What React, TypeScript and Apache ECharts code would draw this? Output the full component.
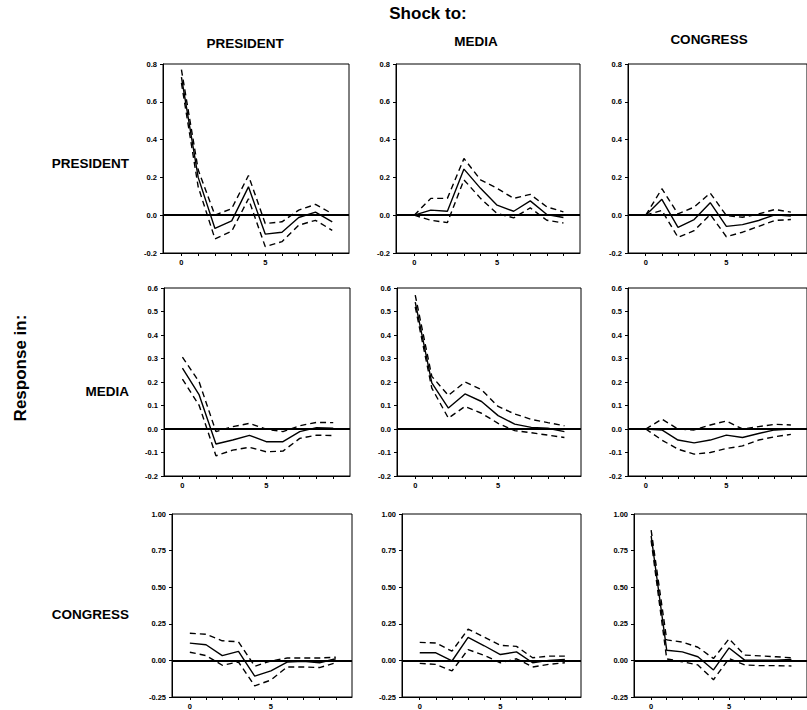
import React, { useEffect, useRef } from "react";
import * as echarts from "echarts";

// horizon steps
const steps = [0, 1, 2, 3, 4, 5, 6, 7, 8, 9];
const xLabelTicks = [0, 5];

// Shock / response names
const shockNames = ["PRESIDENT", "MEDIA", "CONGRESS"];
const responseNames = ["PRESIDENT", "MEDIA", "CONGRESS"];

// Response of PRESIDENT
const presToPresMid = [0.73, 0.2, -0.07, -0.03, 0.15, -0.1, -0.09, -0.012, 0.016, -0.035];
const presToPresUp = [0.77, 0.24, 0.0, 0.035, 0.21, -0.044, -0.035, 0.027, 0.057, 0.008];
const presToPresLo = [0.7, 0.15, -0.125, -0.085, 0.087, -0.166, -0.14, -0.053, -0.027, -0.08];

const mediaToPresMid = [0.0, 0.027, 0.021, 0.244, 0.142, 0.053, 0.021, 0.076, 0.004, -0.012];
const mediaToPresUp = [0.0, 0.089, 0.089, 0.3, 0.187, 0.142, 0.089, 0.11, 0.044, 0.018];
const mediaToPresLo = [0.0, -0.027, -0.039, 0.187, 0.089, 0.009, -0.014, 0.039, -0.027, -0.041];

const congToPresMid = [0.0, 0.084, -0.064, -0.023, 0.066, -0.059, -0.05, -0.028, 0.002, -0.005];
const congToPresUp = [0.0, 0.14, 0.007, 0.043, 0.117, -0.002, -0.011, 0.007, 0.03, 0.016];
const congToPresLo = [0.0, 0.025, -0.117, -0.082, 0.004, -0.114, -0.09, -0.059, -0.028, -0.023];

// Response of MEDIA
const presToMediaMid = [0.259, 0.145, -0.064, -0.047, -0.027, -0.054, -0.054, -0.011, 0.006, 0.003];
const presToMediaUp = [0.306, 0.2, -0.011, 0.01, 0.024, -0.001, -0.011, 0.014, 0.028, 0.027];
const presToMediaLo = [0.212, 0.1, -0.114, -0.09, -0.078, -0.097, -0.094, -0.04, -0.026, -0.028];

const mediaToMediaMid = [0.54, 0.196, 0.089, 0.149, 0.117, 0.057, 0.021, 0.007, 0.003, -0.011];
const mediaToMediaUp = [0.57, 0.224, 0.143, 0.2, 0.167, 0.096, 0.064, 0.041, 0.027, 0.014];
const mediaToMediaLo = [0.52, 0.174, 0.046, 0.096, 0.067, 0.024, -0.007, -0.016, -0.026, -0.036];

const congToMediaMid = [0.0, -0.004, -0.047, -0.059, -0.047, -0.026, -0.036, -0.019, -0.004, 0.0];
const congToMediaUp = [0.0, 0.042, 0.0, -0.004, 0.017, 0.034, 0.0, 0.01, 0.02, 0.017];
const congToMediaLo = [0.0, -0.047, -0.086, -0.107, -0.1, -0.083, -0.072, -0.047, -0.033, -0.023];

// Response of CONGRESS
const presToCongMid = [0.118, 0.107, 0.033, 0.062, -0.107, -0.071, -0.011, -0.007, -0.016, 0.011];
const presToCongUp = [0.185, 0.179, 0.134, 0.127, -0.04, -0.004, 0.016, 0.016, 0.016, 0.022];
const presToCongLo = [0.056, 0.033, -0.033, -0.011, -0.174, -0.134, -0.045, -0.045, -0.049, -0.016];

const mediaToCongMid = [0.052, 0.052, -0.004, 0.157, 0.1, 0.04, 0.058, -0.016, 0.0, 0.007];
const mediaToCongUp = [0.123, 0.119, 0.063, 0.213, 0.159, 0.103, 0.096, 0.018, 0.029, 0.029];
const mediaToCongLo = [-0.02, -0.027, -0.072, 0.074, 0.034, -0.016, 0.011, -0.045, -0.027, -0.016];

const congToCongMid = [0.85, 0.069, 0.058, 0.025, -0.065, 0.085, 0.002, 0.002, 0.002, 0.007];
const congToCongUp = [0.89, 0.14, 0.125, 0.09, 0.013, 0.147, 0.036, 0.031, 0.025, 0.018];
const congToCongLo = [0.82, 0.01, -0.009, -0.031, -0.132, 0.013, -0.031, -0.036, -0.036, -0.038];

// panels [row][col]: row = response, col = shock
const panels = [
  [
    [presToPresMid, presToPresUp, presToPresLo],
    [mediaToPresMid, mediaToPresUp, mediaToPresLo],
    [congToPresMid, congToPresUp, congToPresLo],
  ],
  [
    [presToMediaMid, presToMediaUp, presToMediaLo],
    [mediaToMediaMid, mediaToMediaUp, mediaToMediaLo],
    [congToMediaMid, congToMediaUp, congToMediaLo],
  ],
  [
    [presToCongMid, presToCongUp, presToCongLo],
    [mediaToCongMid, mediaToCongUp, mediaToCongLo],
    [congToCongMid, congToCongUp, congToCongLo],
  ],
];

// y-axis scales per row
const yMins = [-0.2, -0.2, -0.25];
const yMaxs = [0.8, 0.6, 1.0];
const yIntervals = [0.2, 0.1, 0.25];
const yDecimals = [1, 1, 2];

// layout
const gridLefts = [
  [163, 396, 628],
  [164, 397, 628],
  [172, 402, 634],
];
const gridWidths = [
  [186, 184, 186],
  [186, 184, 186],
  [180, 179, 180],
];
const gridTops = [64, 288, 514];
const gridHeights = [189, 188, 187];

const FONT = '"Liberation Sans", Arial, Helvetica, sans-serif';

export default function App() {
  const ref = useRef<HTMLDivElement>(null);

  useEffect(() => {
    if (!ref.current) return;
    const chart = echarts.init(ref.current, undefined, { renderer: "svg" });

    const grid: any[] = [];
    const xAxis: any[] = [];
    const yAxis: any[] = [];
    const series: any[] = [];

    for (let r = 0; r < 3; r++) {
      for (let c = 0; c < 3; c++) {
        const idx = r * 3 + c;
        grid.push({
          left: gridLefts[r][c],
          top: gridTops[r],
          width: gridWidths[r][c],
          height: gridHeights[r],
          show: true,
          borderColor: "#000",
          borderWidth: 1,
          backgroundColor: "transparent",
        });
        xAxis.push({
          type: "value",
          gridIndex: idx,
          min: -1.1,
          max: 10,
          splitLine: { show: false },
          axisLine: { show: true, onZero: false, lineStyle: { color: "#000", width: 1 } },
          axisTick: {
            show: true,
            length: 3,
            customValues: steps,
            lineStyle: { color: "#000" },
          },
          axisLabel: {
            show: true,
            customValues: xLabelTicks,
            margin: 5,
            color: "#000",
            fontFamily: FONT,
            fontWeight: "bold",
            fontSize: 7.5,
            formatter: (v: number) => String(Math.round(v)),
          },
        });
        const dec = yDecimals[r];
        yAxis.push({
          type: "value",
          gridIndex: idx,
          min: yMins[r],
          max: yMaxs[r],
          interval: yIntervals[r],
          splitLine: { show: false },
          axisLine: { show: true, onZero: false, lineStyle: { color: "#000", width: 1 } },
          axisTick: { show: true, length: 3, lineStyle: { color: "#000" } },
          axisLabel: {
            margin: 6,
            color: "#000",
            fontFamily: FONT,
            fontWeight: "bold",
            fontSize: 7.5,
            formatter: (v: number) => (Math.abs(v) < 1e-9 ? 0 : v).toFixed(dec),
          },
        });
        const [mid, up, lo] = panels[r][c];
        series.push({
          type: "line",
          xAxisIndex: idx,
          yAxisIndex: idx,
          data: steps.map((s, i) => [s, mid[i]]),
          showSymbol: false,
          symbol: "none",
          lineStyle: { color: "#000", width: 1.4, type: "solid" },
          silent: true,
          markLine: {
            silent: true,
            symbol: ["none", "none"],
            label: { show: false },
            lineStyle: { color: "#000", width: 2, type: "solid" },
            data: [{ yAxis: 0 }],
          },
        });
        [up, lo].forEach((band) => {
          series.push({
            type: "line",
            xAxisIndex: idx,
            yAxisIndex: idx,
            data: steps.map((s, i) => [s, band[i]]),
            showSymbol: false,
            symbol: "none",
            lineStyle: { color: "#000", width: 1.4, type: [6, 4] },
            silent: true,
          });
        });
      }
    }

    const colCenters = [245, 476, 709];
    const colYs = [43, 41, 39];
    const rowYs = [163, 391, 614];

    const graphic: any[] = [
      {
        type: "text",
        x: 428,
        y: 13,
        style: {
          text: "Shock to:",
          font: `bold 17px ${FONT}`,
          fill: "#000",
          textAlign: "center",
          textVerticalAlign: "middle",
        },
      },
      {
        type: "text",
        x: 20,
        y: 368,
        rotation: Math.PI / 2,
        style: {
          text: "Response in:",
          font: `bold 17px ${FONT}`,
          fill: "#000",
          textAlign: "center",
          textVerticalAlign: "middle",
        },
      },
    ];
    shockNames.forEach((n, i) => {
      graphic.push({
        type: "text",
        x: colCenters[i],
        y: colYs[i],
        style: {
          text: n,
          font: `bold 13.5px ${FONT}`,
          fill: "#000",
          textAlign: "center",
          textVerticalAlign: "middle",
        },
      });
    });
    responseNames.forEach((n, i) => {
      graphic.push({
        type: "text",
        x: 129,
        y: rowYs[i],
        style: {
          text: n,
          font: `bold 13.5px ${FONT}`,
          fill: "#000",
          textAlign: "right",
          textVerticalAlign: "middle",
        },
      });
    });

    chart.setOption({
      animation: false,
      backgroundColor: "#fff",
      grid,
      xAxis,
      yAxis,
      series,
      graphic,
    });

    return () => chart.dispose();
  }, []);

  return (
    <div
      ref={ref}
      style={{ position: "absolute", left: 0, top: 0, width: 807, height: 710 }}
    />
  );
}
